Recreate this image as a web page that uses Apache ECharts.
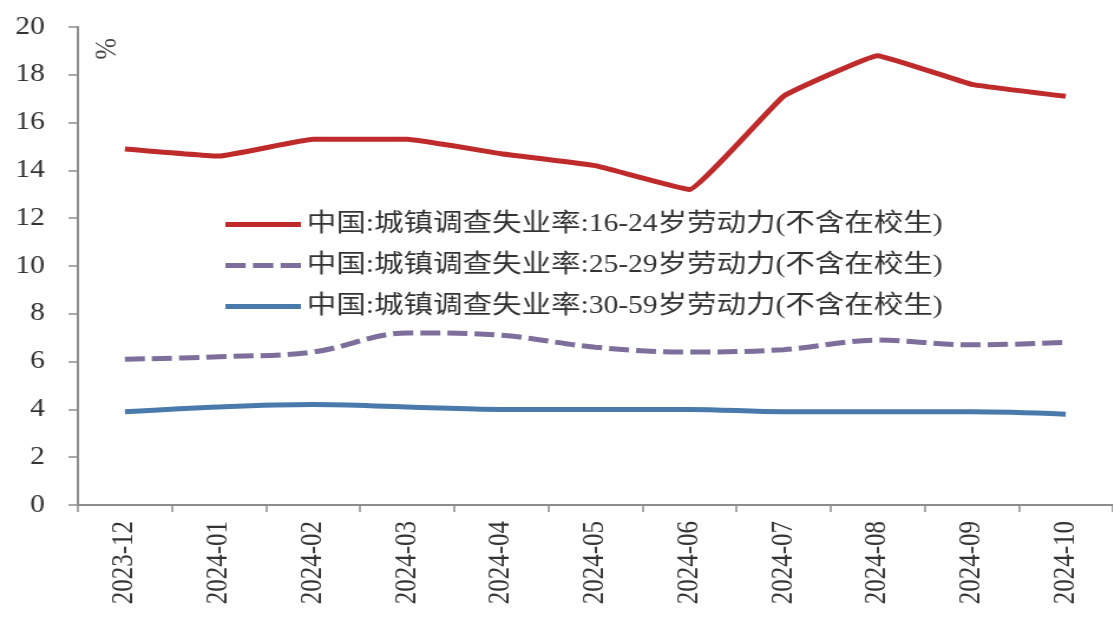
<!DOCTYPE html>
<html>
<head>
<meta charset="utf-8">
<script src="https://cdn.jsdelivr.net/npm/echarts@6/dist/echarts.min.js"></script>
<style>
  html, body { margin: 0; padding: 0; background: #fff; overflow: hidden; }
  /* chart is laid out narrower and widened horizontally, giving the wide glyph look */
  #chart { width: 943px; height: 620px; transform: scaleX(1.18); transform-origin: 0 0; }
</style>
</head>
<body>
<div id="chart"></div>
<script>
// Months on the category axis
const months = ['2023-12', '2024-01', '2024-02', '2024-03', '2024-04', '2024-05',
                '2024-06', '2024-07', '2024-08', '2024-09', '2024-10'];

// Urban surveyed unemployment rate by age group, excluding students (%)
const age16to24 = [14.9, 14.6, 15.3, 15.3, 14.7, 14.2, 13.2, 17.1, 18.8, 17.6, 17.1];
const age25to29 = [6.1, 6.2, 6.4, 7.2, 7.1, 6.6, 6.4, 6.5, 6.9, 6.7, 6.8];
const age30to59 = [3.9, 4.1, 4.2, 4.1, 4.0, 4.0, 4.0, 3.9, 3.9, 3.9, 3.8];

const seriesNames = [
  '中国:城镇调查失业率:16-24岁劳动力(不含在校生)',
  '中国:城镇调查失业率:25-29岁劳动力(不含在校生)',
  '中国:城镇调查失业率:30-59岁劳动力(不含在校生)'
];

const yTicks = { min: 0, max: 20, interval: 2 };

const serifFont = '"Liberation Serif", "Times New Roman", "Noto Sans CJK SC", serif';
const textColor = '#333';
const axisColor = '#8c8c8c';
const colors = ['#bf2a2b', '#7d6e9c', '#4a7aab'];

// legend keys: a thick solid bar, and a three-dash bar for the dashed series
const solidKey = 'path://M0,0h67v5h-67z';
const dashedKey = 'path://M0,0h18v5h-18z M24.5,0h18v5h-18z M49,0h18v5h-18z';

const chart = echarts.init(document.getElementById('chart'), null, { renderer: 'canvas' });

chart.setOption({
  backgroundColor: '#fff',
  animation: false,
  grid: { left: 66, right: -5, top: 27, bottom: 115, containLabel: false },
  legend: {
    orient: 'vertical',
    left: 186,
    top: 207,
    itemWidth: 64,
    itemHeight: 5,
    itemGap: 16,
    textStyle: { fontSize: 25, fontFamily: serifFont, color: textColor, lineHeight: 24 },
    data: [
      { name: seriesNames[0], icon: solidKey, itemStyle: { color: colors[0] } },
      { name: seriesNames[1], icon: dashedKey, itemStyle: { color: colors[1] } },
      { name: seriesNames[2], icon: solidKey, itemStyle: { color: colors[2] } }
    ]
  },
  xAxis: {
    type: 'category',
    data: months,
    boundaryGap: true,
    axisLine: { lineStyle: { color: axisColor, width: 2 } },
    axisTick: { show: true, length: 7, lineStyle: { color: axisColor, width: 1.5 } },
    axisLabel: {
      rotate: 90,
      margin: 16,
      fontSize: 25,
      fontFamily: serifFont,
      color: textColor,
      interval: 0
    },
    splitLine: { show: false }
  },
  yAxis: {
    type: 'value',
    min: yTicks.min,
    max: yTicks.max,
    interval: yTicks.interval,
    axisLine: { show: true, lineStyle: { color: axisColor, width: 2 } },
    axisTick: { show: true, length: 8, lineStyle: { color: axisColor, width: 1.5 } },
    axisLabel: { margin: 28, fontSize: 25, fontFamily: serifFont, color: textColor },
    splitLine: { show: false }
  },
  graphic: [{
    type: 'text',
    x: 101,
    y: 38,
    rotation: -Math.PI / 2,
    style: { text: '%', fontSize: 26, fontFamily: serifFont, fill: '#444' }
  }],
  series: [
    {
      name: seriesNames[0],
      type: 'line',
      data: age16to24,
      symbol: 'none',
      smooth: 0.08,
      lineStyle: { color: colors[0], width: 5 },
      itemStyle: { color: colors[0] }
    },
    {
      name: seriesNames[1],
      type: 'line',
      data: age25to29,
      symbol: 'none',
      smooth: 0.35,
      lineStyle: { color: colors[1], width: 5, type: [17, 6] },
      itemStyle: { color: colors[1] }
    },
    {
      name: seriesNames[2],
      type: 'line',
      data: age30to59,
      symbol: 'none',
      smooth: 0.35,
      lineStyle: { color: colors[2], width: 5 },
      itemStyle: { color: colors[2] }
    }
  ]
});
</script>
</body>
</html>
